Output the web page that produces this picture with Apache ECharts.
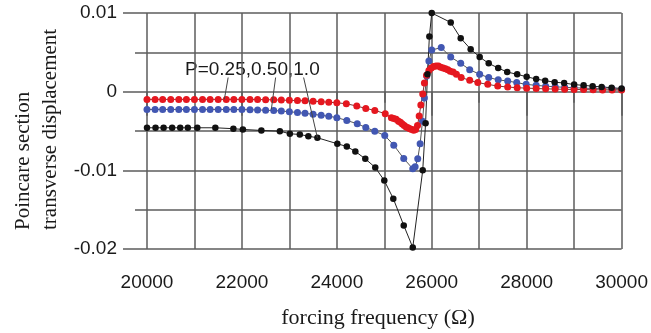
<!DOCTYPE html>
<html>
<head>
<meta charset="utf-8">
<script src="https://cdn.jsdelivr.net/npm/echarts@6/dist/echarts.min.js"></script>
<style>
  html, body { margin: 0; padding: 0; background: #ffffff; }
  #chart { width: 651px; height: 333px; }
</style>
</head>
<body>
<div id="chart"></div>
<script>
// Poincare section transverse displacement vs forcing frequency, three force levels P

// P = 0.25 (red)
const freqP025 = [20000,20170,20330,20500,20670,20830,21000,21170,21330,21500,21670,21830,22000,22170,22330,22500,22670,22830,23000,23170,23330,23500,23670,23830,24000,24200,24420,24610,24800,25020,25150,25200,25250,25300,25340,25380,25420,25460,25500,25540,25580,25620,25660,25700,25735,25770,25810,25845,25890,25940,25990,26040,26090,26140,26190,26240,26290,26340,26390,26450,26520,26620,26800,26970,27180,27390,27600,27800,28000,28200,28400,28600,28800,29000,29200,29400,29600,29800,30000];
const dispP025 = [-0.00098,-0.00098,-0.00098,-0.00098,-0.00098,-0.00098,-0.00098,-0.00098,-0.00098,-0.00098,-0.00098,-0.00098,-0.00098,-0.001,-0.001,-0.00102,-0.00104,-0.00107,-0.0011,-0.00113,-0.00117,-0.00121,-0.00127,-0.00134,-0.00142,-0.00153,-0.00183,-0.00213,-0.00238,-0.0028,-0.0033,-0.0034,-0.0035,-0.00375,-0.0039,-0.0041,-0.0043,-0.0045,-0.0046,-0.0047,-0.0048,-0.0049,-0.0048,-0.0043,-0.0031,-0.0017,-0.0003,0.0011,0.0021,0.0027,0.003,0.0032,0.00325,0.00326,0.0031,0.003,0.0029,0.0028,0.0026,0.0025,0.0022,0.0018,0.00144,0.00115,0.00093,0.00071,0.00059,0.0005,0.00045,0.0004,0.00036,0.00033,0.0003,0.00028,0.00026,0.00024,0.00022,0.0002,0.0002];

// P = 0.50 (blue)
const freqP050 = [20000,20170,20330,20500,20670,20830,21000,21170,21330,21500,21670,21830,22000,22170,22330,22500,22670,22830,23000,23170,23330,23500,23670,23830,24000,24210,24430,24610,24800,25010,25200,25410,25600,25650,25705,25755,25805,25845,25895,25940,26000,26200,26400,26610,26800,27010,27200,27400,27600,27790,27990,28200,28400,28600,28800,29000,29200,29400,29600,29800,30000];
const dispP050 = [-0.00226,-0.00226,-0.00226,-0.00226,-0.00226,-0.00226,-0.00226,-0.00226,-0.00226,-0.00226,-0.00226,-0.00226,-0.00228,-0.0023,-0.00232,-0.00236,-0.0024,-0.00246,-0.00255,-0.00265,-0.00275,-0.00288,-0.003,-0.00313,-0.0033,-0.00366,-0.00408,-0.00455,-0.00502,-0.00557,-0.0068,-0.0085,-0.0098,-0.00955,-0.00853,-0.00662,-0.00375,-0.0008,0.002,0.0039,0.0053,0.0056,0.0044,0.0036,0.0028,0.0022,0.0018,0.0015,0.00135,0.00115,0.00093,0.0008,0.0007,0.00062,0.00055,0.0005,0.00045,0.0004,0.00036,0.00033,0.0003];

// P = 1.0 (black)
const freqP100 = [20000,20180,20350,20530,20700,20860,21060,21440,21820,22020,22410,22800,23010,23220,23400,23590,24010,24210,24390,24600,24810,25000,25190,25410,25600,25810,25870,25910,25950,26000,26400,26610,26820,27010,27200,27400,27590,27800,28000,28200,28390,28590,28790,29000,29200,29390,29580,29790,30000];
const dispP100 = [-0.00459,-0.00459,-0.00459,-0.00459,-0.00459,-0.00459,-0.00459,-0.00459,-0.00471,-0.0048,-0.00493,-0.00502,-0.00535,-0.00544,-0.00566,-0.00586,-0.00662,-0.00697,-0.0076,-0.00854,-0.00964,-0.0113,-0.0136,-0.017,-0.0198,-0.01,-0.004,0.0022,0.007,0.01,0.0088,0.0068,0.0054,0.0044,0.0036,0.003,0.0025,0.0022,0.0019,0.0016,0.0014,0.0012,0.0011,0.0009,0.0008,0.0007,0.0006,0.0005,0.0004];

// Axis ranges and tick steps
const xRange = [20000, 30000];
const xMinorStep = 1000, xLabelStep = 2000;
const yRange = [-0.02, 0.01];
const yMinorStep = 0.005, yLabelStep = 0.01;

// Callout text and its leader lines (data space: start near the text, end on each curve)
const noteText = 'P=0.25,0.50,1.0';
const noteFrom = [[21710, 0.0018], [22710, 0.0018], [23300, 0.0018]];
const noteTo   = [[21630, -0.00098], [22620, -0.00226], [23590, -0.00586]];

const xTitle = 'forcing frequency (\u03A9)';
const yTitle = ['Poincare section', 'transverse displacement'];

const GRID = '#5c5c5c';
const SANS = '"Liberation Sans", Arial, Helvetica, sans-serif';
const SERIF = '"Liberation Serif", "Times New Roman", serif';

const zip = (xs, ys) => xs.map((x, i) => [x, ys[i]]);

const chart = echarts.init(document.getElementById('chart'), null, { renderer: 'canvas' });

const gridLine = { color: GRID, width: 1.5 };

function curve(name, xs, ys, color, lineColor, size) {
  return {
    name, type: 'line', xAxisIndex: 0, yAxisIndex: 0,
    data: zip(xs, ys),
    symbol: 'circle', symbolSize: size, showSymbol: true, showAllSymbol: true,
    itemStyle: { color: color, borderWidth: 0 },
    lineStyle: { color: lineColor, width: 1 },
    emphasis: { disabled: true },
    animation: false
  };
}

const leaderData = noteFrom.map((p, i) => [{ coord: p }, { coord: noteTo[i] }]);

const blackSeries = curve('P=1.0', freqP100, dispP100, '#111111', '#222222', 6.5);
blackSeries.markLine = {
  silent: true, animation: false,
  symbol: ['none', 'none'],
  label: { show: false },
  lineStyle: { color: '#444444', width: 1, type: 'solid' },
  emphasis: { disabled: true },
  data: leaderData
};

const option = {
  backgroundColor: '#ffffff',
  animation: false,
  grid: { left: 147, right: 26, top: 13, bottom: 84, containLabel: false },
  xAxis: [
    {
      type: 'value', min: xRange[0], max: xRange[1], interval: xMinorStep, position: 'bottom',
      axisLine: { show: false },
      axisTick: { show: true, length: 11, lineStyle: gridLine },
      axisLabel: { show: false },
      splitLine: { show: true, lineStyle: gridLine }
    },
    {
      type: 'value', min: xRange[0], max: xRange[1], interval: xLabelStep, position: 'bottom', offset: 0,
      axisLine: { show: false },
      axisTick: { show: true, length: 24, lineStyle: gridLine },
      axisLabel: { show: true, margin: 24, color: '#1a1a1a', fontSize: 19, fontFamily: SANS,
                   formatter: v => String(v) },
      splitLine: { show: false }
    }
  ],
  yAxis: [
    {
      type: 'value', min: yRange[0], max: yRange[1], interval: yMinorStep, position: 'left',
      axisLine: { show: false },
      axisTick: { show: true, length: 12, lineStyle: gridLine },
      axisLabel: { show: false },
      splitLine: { show: true, lineStyle: gridLine }
    },
    {
      type: 'value', min: yRange[0], max: yRange[1], interval: yLabelStep, position: 'left', offset: 0,
      axisLine: { show: false },
      axisTick: { show: true, length: 24, lineStyle: gridLine },
      axisLabel: { show: true, margin: 30, color: '#1a1a1a', fontSize: 19, fontFamily: SANS },
      splitLine: { show: false }
    }
  ],
  series: [
    curve('P=0.50', freqP050, dispP050, '#4257b2', '#555555', 7),
    curve('P=0.25', freqP025, dispP025, '#e5171f', '#7a3333', 7),
    blackSeries
  ],
  graphic: [
    { type: 'text', left: 185, top: 60, silent: true,
      style: { text: noteText, font: '19px ' + SANS, fill: '#1a1a1a' } },
    { type: 'text', x: 378, y: 318, silent: true,
      style: { text: xTitle, font: '22px ' + SERIF, fill: '#1a1a1a', align: 'center', verticalAlign: 'middle' } },
    { type: 'text', x: 23, y: 230, rotation: Math.PI / 2, silent: true,
      style: { text: yTitle[0], font: '21px ' + SERIF, fill: '#1a1a1a', align: 'left', verticalAlign: 'middle' } },
    { type: 'text', x: 50, y: 230, rotation: Math.PI / 2, silent: true,
      style: { text: yTitle[1], font: '21px ' + SERIF, fill: '#1a1a1a', align: 'left', verticalAlign: 'middle' } }
  ]
};

chart.setOption(option);
</script>
</body>
</html>
